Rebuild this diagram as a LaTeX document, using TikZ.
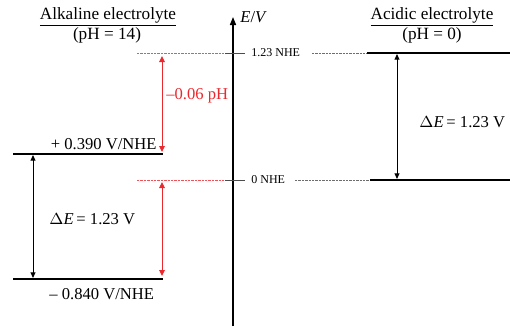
\documentclass[tikz,border=0pt]{standalone}
\usepackage{fontspec}
\setmainfont{Liberation Serif}
\usetikzlibrary{arrows.meta}
\definecolor{myred}{RGB}{235,40,45}
\definecolor{mygray}{RGB}{110,110,110}
\begin{document}
\begin{tikzpicture}[x=0.5pt,y=-0.5pt,
  level/.style={line width=1pt,black},
  redlevel/.style={myred!80,line width=0.45pt,dash pattern=on 1.2pt off 0.5pt},
  graylevel/.style={mygray,line width=0.45pt,dash pattern=on 1.2pt off 0.5pt},
  tickline/.style={black!70,line width=0.5pt},
  dimarrow/.style={line width=0.5pt,{Triangle[length=2.8pt,width=2.4pt]}-{Triangle[length=2.8pt,width=2.4pt]}},
  reddim/.style={myred,line width=0.45pt,{Triangle[length=3pt,width=2.8pt]}-{Triangle[length=3pt,width=2.8pt]}},
  title/.style={font=\fontsize{8.6}{10}\selectfont,inner sep=0pt},
  lab/.style={font=\fontsize{8.3}{10}\selectfont,inner sep=0pt},
  small/.style={font=\fontsize{6}{7}\selectfont,inner sep=0pt}]
\useasboundingbox (0,0) rectangle (510,327);
% axis
\coordinate (axb) at (233,326);
\coordinate (axt) at (233,17);
\draw[line width=0.75pt,-{Triangle[length=4pt,width=3pt]}] (axb) -- (axt);
\node[lab,anchor=west] (ev) at (240,17) {\textit{E}/\textit{V}};
% titles
\node[title] (alk) at (108,17) {\underline{Alkaline electrolyte}};
\node[title] (alkph) at (107,35) {(pH = 14)};
\node[title] (acid) at (432,17) {\underline{Acidic electrolyte}};
\node[title] (acidph) at (432,35) {(pH = 0)};
% 1.23 NHE level
\coordinate (r1a) at (137,53);
\coordinate (r1b) at (225,53);
\coordinate (t1b) at (245,53);
\draw[redlevel] (r1a) -- (r1b);
\draw[tickline] (r1b) -- (t1b);
\node[small,anchor=west] (n123) at (251,53) {1.23 NHE};
\coordinate (g1a) at (312,53);
\coordinate (g1b) at (367,53);
\coordinate (L1b) at (510,53);
\draw[graylevel] (g1a) -- (g1b);
\draw[level] (g1b) -- (L1b);
% 0 NHE level
\coordinate (r0a) at (137,180);
\coordinate (r0b) at (225,180);
\coordinate (t0b) at (245,180);
\draw[redlevel] (r0a) -- (r0b);
\draw[tickline] (r0b) -- (t0b);
\node[small,anchor=west] (n0) at (251,180) {0 NHE};
\coordinate (g0a) at (295,180);
\coordinate (g0b) at (370,180);
\coordinate (L0b) at (510,180);
\draw[graylevel] (g0a) -- (g0b);
\draw[level] (g0b) -- (L0b);
% right arrow
\coordinate (ra) at (397,54);
\coordinate (rb) at (397,179);
\draw[dimarrow] (ra) -- (rb);
\node[lab,anchor=west] (dEr) at (419,122) {$\Delta$\textit{E}\,= 1.23 V};
% alkaline levels
\coordinate (a1a) at (13,154);
\coordinate (a1b) at (163,154);
\coordinate (a2a) at (13,279);
\coordinate (a2b) at (163,279);
\draw[level] (a1a) -- (a1b);
\draw[level] (a2a) -- (a2b);
\node[lab,anchor=east] (p390) at (157,144) {+ 0.390 V/NHE};
\node[lab,anchor=west] (m840) at (49,294) {\textendash\ 0.840 V/NHE};
% left arrow
\coordinate (la) at (33,155);
\coordinate (lb) at (33,278);
\draw[dimarrow] (la) -- (lb);
\node[lab,anchor=west] (dEl) at (49,219) {$\Delta$\textit{E}\,= 1.23 V};
% red arrows
\coordinate (ra1) at (162,56);
\coordinate (rb1) at (162,152);
\draw[reddim] (ra1) -- (rb1);
\node[lab,anchor=west,text=myred] (ph) at (166,96) {\textendash0.06 pH};
\coordinate (ra2) at (162,182);
\coordinate (rb2) at (162,276);
\draw[reddim] (ra2) -- (rb2);
\end{tikzpicture}
\end{document}
